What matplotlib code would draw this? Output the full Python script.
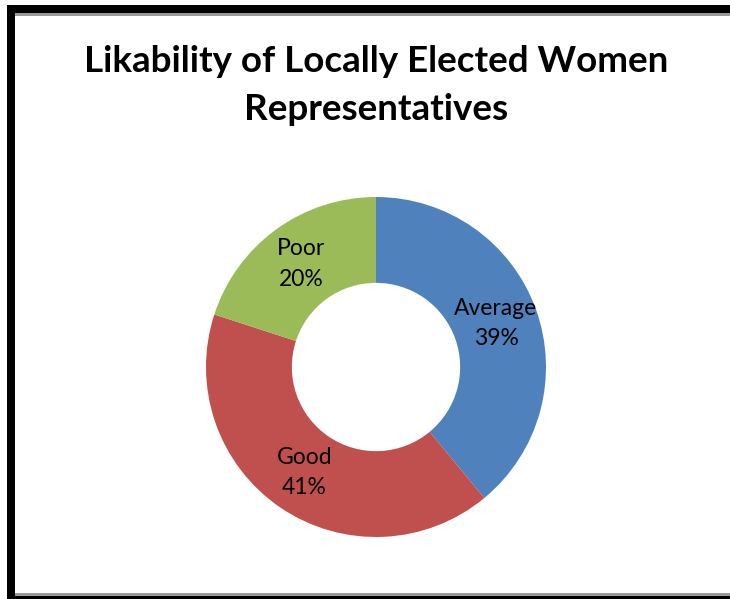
import matplotlib.pyplot as plt
import matplotlib.patches as mpatches
import numpy as np

# Survey results
categories = ["Average", "Good", "Poor"]
shares = [39, 41, 20]
colors = ["#4F81BD", "#C0504D", "#9BBB59"]

W, H = 730, 599
fig = plt.figure(figsize=(W / 100, H / 100), dpi=100)
plt.rcParams['font.family'] = ['Lato', 'DejaVu Sans']


def px_rect(x0, y0, x1, y1, color):
    # rectangle given in pixel coords with y measured from the top
    fig.patches.append(mpatches.Rectangle(
        (x0 / W, 1 - y1 / H), (x1 - x0) / W, (y1 - y0) / H,
        transform=fig.transFigure, color=color, lw=0, zorder=5))


# frame around the chart area
px_rect(7, 5, W, 13, "black")
px_rect(15, 13, W, 16, "#9a9a9a")
px_rect(7, 5, 15, H, "black")
px_rect(15, 593, W, 596, "#9a9a9a")
px_rect(7, 596, W, H, "black")

fig.text(376 / W, 1 - 62 / H, "Likability of Locally Elected Women",
         ha="center", va="center", fontsize=26.5, fontweight="bold")
fig.text(376 / W, 1 - 110 / H, "Representatives",
         ha="center", va="center", fontsize=26.5, fontweight="bold")

# donut
cx, cy, r = 376, 367, 170
ax = fig.add_axes([(cx - r) / W, 1 - (cy + r) / H, 2 * r / W, 2 * r / H])
wedges, _ = ax.pie(shares, colors=colors, startangle=90, counterclock=False,
                   radius=1, wedgeprops=dict(width=0.505, linewidth=0))
ax.set_xlim(-1, 1)
ax.set_ylim(-1, 1)
ax.set_aspect("equal")
ax.axis("off")

for w, cat, val in zip(wedges, categories, shares):
    ang = np.deg2rad((w.theta1 + w.theta2) / 2)
    rr = 0.75
    ax.text(rr * np.cos(ang), rr * np.sin(ang), f"{cat}\n{val}%",
            ha="center", va="center", fontsize=16.5, linespacing=1.55,
            color="black")

fig.savefig("out.png", dpi=100)
